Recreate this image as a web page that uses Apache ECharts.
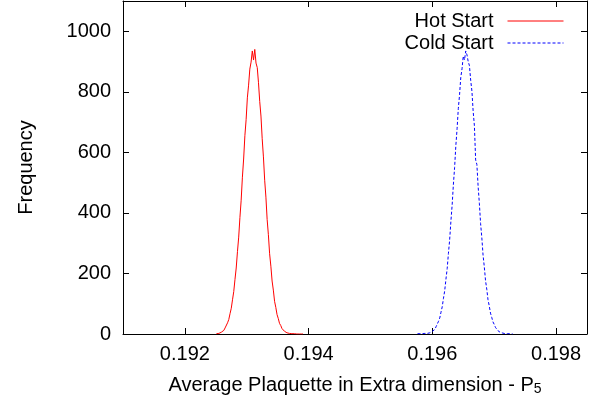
<!DOCTYPE html>
<html>
<head>
<meta charset="utf-8">
<script src="https://cdn.jsdelivr.net/npm/echarts@6/dist/echarts.min.js"></script>
<style>
  html, body { margin: 0; padding: 0; background: #fff; }
  #chart { width: 602px; height: 402px; }
</style>
</head>
<body>
<div id="chart"></div>
<script>
// histogram bins (bin width and first bin centre), counts
var binWidth = 0.00002;
var hotFirstBin = 0.19251;
var coldFirstBin = 0.19576;

var hotCounts = [
  1, 2, 2, 4, 6, 9, 12, 20, 26, 37,
  48, 67, 85, 113, 140, 180, 218, 272, 320, 385,
  442, 518, 578, 655, 708, 780, 822, 875, 898, 935,
  905, 940, 895, 880, 830, 768, 720, 645, 585, 508,
  452, 378, 328, 265, 224, 175, 145, 108, 88, 64,
  51, 35, 28, 18, 14, 9, 7, 4, 4, 2,
  2, 1, 2, 1, 1, 0, 1, 0, 1, 0, 0
];

var coldCounts = [
  1, 0, 1, 0, 1, 1, 2, 1, 2, 3,
  4, 6, 9, 12, 15, 24, 30, 42, 53, 72,
  90, 118, 143, 181, 216, 266, 311, 372, 425, 493,
  550, 622, 678, 745, 790, 848, 876, 918, 905, 935,
  922, 900, 886, 838, 802, 735, 688, 575, 560, 488,
  432, 365, 318, 260, 222, 176, 148, 113, 93, 69,
  55, 40, 32, 22, 17, 11, 9, 5, 4, 3,
  2, 1, 2, 1, 0, 1, 0, 0
];

var xTicks = [0.192, 0.194, 0.196, 0.198];
var yTicks = [0, 200, 400, 600, 800, 1000];

function toPoints(first, counts) {
  var pts = [];
  for (var i = 0; i < counts.length; i++) {
    pts.push([+(first + i * binWidth).toFixed(6), counts[i]]);
  }
  return pts;
}

var font = 'Liberation Sans, Arial, sans-serif';
var myChart = echarts.init(document.getElementById('chart'));

var boxLine = { show: true, onZero: false, lineStyle: { color: '#000', width: 1 } };
var tickLine = { color: '#000', width: 1 };

var option = {
  animation: false,
  backgroundColor: '#fff',
  grid: { left: 123, right: 15, top: 1, bottom: 68, outerBoundsMode: 'none', containLabel: false },
  legend: {
    orient: 'vertical',
    right: 33,
    top: 6,
    align: 'right',
    itemWidth: 56,
    itemHeight: 14,
    itemGap: 2,
    data: ['Hot Start', 'Cold Start'],
    itemStyle: { opacity: 0 },
    lineStyle: { width: 1 },
    textStyle: { fontFamily: font, fontSize: 20, color: '#000', lineHeight: 20, padding: [0, 9, 0, 0] }
  },
  xAxis: [{
    type: 'value',
    min: 0.191,
    max: 0.1985,
    position: 'bottom',
    axisLine: boxLine,
    splitLine: { show: false },
    axisTick: { show: true, inside: true, length: 6, customValues: xTicks, lineStyle: tickLine },
    axisLabel: {
      customValues: xTicks,
      margin: 10,
      fontFamily: font, fontSize: 20, color: '#000',
      formatter: function (v) { return v.toFixed(3); }
    },
    name: 'Average Plaquette in Extra dimension - P{sub|5}',
    nameLocation: 'middle',
    nameGap: 40,
    nameTextStyle: {
      fontFamily: font, fontSize: 20, color: '#000',
      rich: { sub: { fontFamily: font, fontSize: 14, color: '#000', verticalAlign: 'bottom', padding: [8, 0, 0, 0] } }
    }
  }, {
    type: 'value',
    min: 0.191,
    max: 0.1985,
    position: 'top',
    axisLine: boxLine,
    splitLine: { show: false },
    axisTick: { show: true, inside: true, length: 6, customValues: xTicks, lineStyle: tickLine },
    axisLabel: { show: false }
  }],
  yAxis: [{
    type: 'value',
    min: 0,
    max: 1100,
    position: 'left',
    axisLine: boxLine,
    splitLine: { show: false },
    axisTick: { show: true, inside: true, length: 6, customValues: yTicks, lineStyle: tickLine },
    axisLabel: {
      customValues: yTicks, margin: 12, fontFamily: font, fontSize: 20, color: '#000',
      formatter: function (v) { return String(v); }
    },
    name: 'Frequency',
    nameLocation: 'middle',
    nameGap: 87,
    nameTextStyle: { fontFamily: font, fontSize: 20, color: '#000' }
  }, {
    type: 'value',
    min: 0,
    max: 1100,
    position: 'right',
    axisLine: boxLine,
    splitLine: { show: false },
    axisTick: { show: true, inside: true, length: 6, customValues: yTicks, lineStyle: tickLine },
    axisLabel: { show: false }
  }],
  series: [{
    name: 'Hot Start',
    type: 'line',
    xAxisIndex: 0,
    yAxisIndex: 0,
    data: toPoints(hotFirstBin, hotCounts),
    symbol: 'none',
    showSymbol: false,
    color: '#ff0000',
    lineStyle: { color: '#ff0000', width: 1 }
  }, {
    name: 'Cold Start',
    type: 'line',
    xAxisIndex: 0,
    yAxisIndex: 0,
    data: toPoints(coldFirstBin, coldCounts),
    symbol: 'none',
    showSymbol: false,
    color: '#0000ff',
    lineStyle: { color: '#0000ff', width: 1, type: [3, 2] }
  }]
};

myChart.setOption(option);
</script>
</body>
</html>
